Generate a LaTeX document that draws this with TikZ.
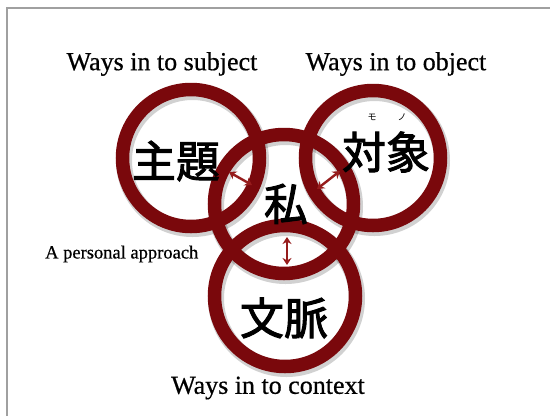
\documentclass[tikz,border=0pt]{standalone}
\usepackage{fontspec}
\setmainfont{Liberation Serif}[FakeBold=0.6]
\newfontfamily\cjk{Noto Sans CJK JP}[FakeBold=2.2]
\newfontfamily\cjkruby{Noto Sans CJK JP}
\usetikzlibrary{arrows.meta}
\definecolor{ringred}{RGB}{122,8,12}
\definecolor{arrowred}{RGB}{150,28,28}
\definecolor{framegray}{RGB}{160,160,160}
\begin{document}
\begin{tikzpicture}[x=1pt,y=-1pt,
  ring/.style={circle,draw=ringred,line width=13.5pt,minimum size=#1,inner sep=0pt},
  ringshadow/.style={circle,draw=black,draw opacity=0.18,line width=16pt,minimum size=#1,inner sep=0pt},
  kanji/.style={font=\cjk\fontsize{44}{44}\selectfont,inner sep=0pt},
  ruby/.style={font=\cjkruby\fontsize{9}{9}\selectfont,inner sep=0pt},
  caption/.style={font=\fontsize{26}{26}\selectfont,inner sep=0pt},
  smallcaption/.style={font=\fontsize{18.5}{18.5}\selectfont,inner sep=0pt},
  link/.style={draw=arrowred,line width=2.4pt,{Stealth[length=7pt,width=9pt]}-{Stealth[length=7pt,width=9pt]}}]
\useasboundingbox (0,0) rectangle (550,416);
\fill[white] (0,0) rectangle (550,416);
% frame lines along the top and left
\draw[framegray,line width=1.6pt] (7,416) -- (7,8) -- (550,8);

% soft shadows beneath the rings
\foreach \cx/\cy/\d in {191/158/137, 373/158/135, 284/204/139, 285/296/141}
  \node[ringshadow=\d] at (\cx+1.5,\cy+2.5) {};

% the four rings
\node[ring=137] (subj) at (191,158) {};
\node[ring=135] (obj)  at (373,158) {};
\node[ring=139] (self) at (284,204) {};
\node[ring=141] (ctx)  at (285,296) {};

% kanji labels
\node[kanji] (subjlabel) at (176,161) {主題};
\node[kanji] (objlabel)  at (386,152) {対象};
\node[kanji] (selflabel) at (286,204) {私};
\node[kanji] (ctxlabel)  at (284,318) {文脈};
\node[ruby] (mo) at (372,117) {モ};
\node[ruby] (no) at (402,117) {ノ};

% double-headed links between the rings
\coordinate (a1) at (229,172);
\coordinate (a2) at (252,185);
\coordinate (b1) at (317,189);
\coordinate (b2) at (340,171);
\coordinate (c1) at (287,237);
\coordinate (c2) at (287,265);
\draw[link] (a1) -- (a2);
\draw[link] (b1) -- (b2);
\draw[link] (c1) -- (c2);

% captions
\node[caption] (capsubj) at (162,64) {Ways in to subject};
\node[caption] (capobj)  at (396,64) {Ways in to object};
\node[caption] (capctx)  at (268,388) {Ways in to context};
\node[smallcaption,anchor=west] (capself) at (45,254) {A personal approach};
\end{tikzpicture}
\end{document}
